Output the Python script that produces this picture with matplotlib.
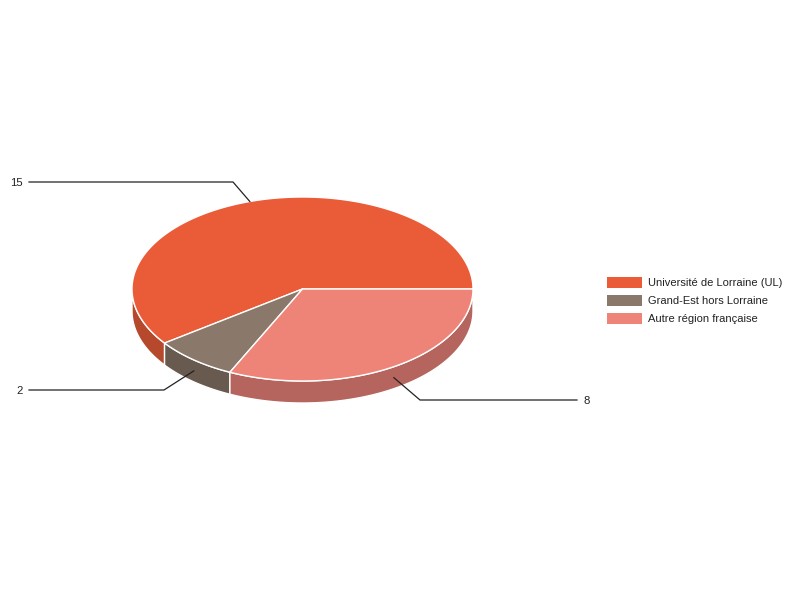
import numpy as np
import matplotlib
matplotlib.use("Agg")
import matplotlib.pyplot as plt
from matplotlib.patches import Polygon, Rectangle

plt.rcParams['font.family'] = ['Liberation Sans', 'DejaVu Sans']

categories = ["Université de Lorraine (UL)", "Grand-Est hors Lorraine", "Autre région française"]
values = [15, 2, 8]
top_colors = ["#E95C37", "#8A786B", "#EE8377"]
side_colors = ["#B6482B", "#695A50", "#B5655D"]

cx, cy, rx, ry, depth = 302.5, 289.0, 170.5, 92.0, 22.0

fig = plt.figure(figsize=(8, 6), dpi=100)
ax = fig.add_axes([0, 0, 1, 1])
ax.set_xlim(0, 800)
ax.set_ylim(600, 0)
ax.axis('off')

total = sum(values)
angles = np.cumsum([0] + [v / total * 360 for v in values])

def pt(a, dz=0.0):
    r = np.radians(a)
    return cx + rx * np.cos(r), cy - ry * np.sin(r) + dz

# sides (visible for angles between 180 and 360)
for i, v in enumerate(values):
    a0, a1 = angles[i], angles[i + 1]
    s0, s1 = max(a0, 180), min(a1, 360)
    if s1 > s0:
        ts = np.linspace(s0, s1, 100)
        upper = [pt(t) for t in ts]
        lower = [pt(t, depth) for t in ts[::-1]]
        ax.add_patch(Polygon(upper + lower, closed=True, facecolor=side_colors[i],
                             edgecolor='white', linewidth=1.0, zorder=1))

# tops
for i, v in enumerate(values):
    a0, a1 = angles[i], angles[i + 1]
    ts = np.linspace(a0, a1, 200)
    poly = [(cx, cy)] + [pt(t) for t in ts]
    ax.add_patch(Polygon(poly, closed=True, facecolor=top_colors[i],
                         edgecolor='white', linewidth=1.0, zorder=2))

# leader lines and labels
elbows = [(233, 182), (164, 390), (420, 400)]
ends_x = [29, 29, 577]
for i, v in enumerate(values):
    mid = (angles[i] + angles[i + 1]) / 2
    ax_, ay_ = pt(mid)
    if 180 < mid < 360:
        ay_ += depth / 2
    ex, ey = elbows[i]
    ax.plot([ax_, ex, ends_x[i]], [ay_, ey, ey], color='#222222', linewidth=0.9, zorder=3)
    if ends_x[i] < cx:
        ax.text(ends_x[i] - 6, ey + 0.5, str(v), ha='right', va='center', fontsize=8.2, color='#222222')
    else:
        ax.text(ends_x[i] + 7, ey + 0.5, str(v), ha='left', va='center', fontsize=8.2, color='#222222')

# legend
for i, c in enumerate(categories):
    y = 282 + i * 18
    ax.add_patch(Rectangle((607, y - 5.5), 34.5, 11, facecolor=top_colors[i], edgecolor='none'))
    ax.text(648, y + 0.5, c, ha='left', va='center', fontsize=8.0, color='#222222')

fig.savefig("out.png", dpi=100)
